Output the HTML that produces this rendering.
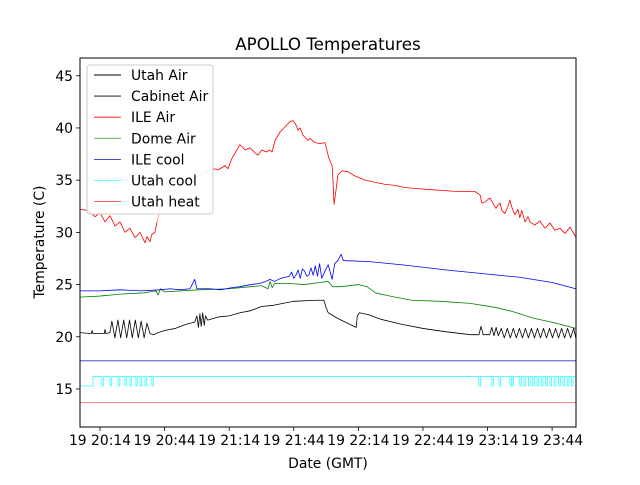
<!DOCTYPE html>
<html><head><meta charset="utf-8"><style>
body{margin:0;background:#fff}
svg text{font-family:"DejaVu Sans","Liberation Sans",sans-serif;fill:#000}
</style></head><body>
<svg id="chart" width="640" height="480" viewBox="0 0 640 480" xmlns="http://www.w3.org/2000/svg">
<rect width="640" height="480" fill="#fff"/>
<text x="328" y="50" font-size="16.7" text-anchor="middle">APOLLO Temperatures</text>
<g id="plot"></g>
<g id="axes"></g>
<text x="328" y="468" font-size="13.9" text-anchor="middle">Date (GMT)</text>
<text transform="translate(44,242) rotate(-90)" font-size="13.9" text-anchor="middle">Temperature (C)</text>
<g id="legend"></g>
</svg>
<script>
// minutes after 19 20:14
const xTickMinutes=[0,30,60,90,120,150,180,210];
const xTickLabels=["19 20:14","19 20:44","19 21:14","19 21:44","19 22:14","19 22:44","19 23:14","19 23:44"];
const yTicks=[15,20,25,30,35,40,45];

const ileAirT=[-9.3,-5.6,-2.3,0,2.3,4.6,7.0,9.3,11.6,13.9,16.3,18.6,20.9,21.8,23.2,24.1,25.5,26.5,27.9,29.3,30.7,32.5,34.8,37.2,41.8,46.4,51.1,52.5,54.8,56.7,58.0,59.4,61.3,63.6,65.0,67.3,69.7,72.0,73.4,75.2,77.1,78.9,79.9,81.3,83.6,85.9,88.2,89.6,91.0,92.0,92.9,94.3,96.6,97.5,99.8,102.2,104.5,106.3,107.8,108.2,108.7,109.6,110.5,112.4,115.2,118.4,123.1,127.7,132.4,137.0,141.6,146.3,153.3,160.2,167.2,174.2,176.5,177.4,178.8,181.1,182.5,183.9,184.8,185.8,186.7,188.1,189.5,190.4,191.3,192.7,194.1,195.0,195.9,197.4,198.8,199.7,202.0,204.3,206.7,209.0,211.3,213.6,216.0,218.3,220.6,221.1];
const ileAirV=[32.2,32.1,31.5,31.9,31.0,31.6,30.6,31.0,30.0,30.4,29.5,30.0,29.0,29.6,29.1,29.8,30.0,31.0,32.3,33.4,34.2,33.9,34.0,34.5,35.0,35.5,36.0,36.1,36.0,36.2,36.4,36.1,37.1,37.9,38.4,37.9,38.1,37.6,37.4,37.9,37.7,37.9,37.7,38.8,39.6,40.1,40.6,40.7,40.3,39.8,40.0,39.3,38.8,39.0,38.6,38.5,38.6,37.1,36.4,35.0,32.7,34.0,35.5,35.9,35.8,35.4,35.0,34.8,34.6,34.5,34.3,34.2,34.1,34.0,33.9,33.9,33.6,32.8,32.9,33.3,32.8,32.3,32.6,32.8,32.1,31.8,32.5,33.1,32.4,31.7,32.2,31.4,32.1,31.0,31.5,31.0,30.7,31.1,30.4,30.9,30.2,30.4,29.9,30.5,29.7,29.5];
const ileAirFaint=[26.5,52.5];

const cabinetT=[-9.3,0,9.3,18.6,27.9,32.5,37.2,41.8,44,45,51,56,61,65,70,74,77,79,81,84,86,88,89,90,91,92,93,94,95,96,97,98,99,100,101,102,103,104.5,106,107.8,109,110.5,112,113,125,140,161,180,195,210,221];
const cabinetV=[24.4,24.4,24.5,24.4,24.5,24.6,24.5,24.6,25.5,24.6,24.6,24.5,24.7,24.8,25.0,25.1,25.3,25.5,25.3,25.6,25.7,25.8,26.2,25.6,25.9,26.4,25.6,26.5,26.3,25.8,25.9,26.6,25.9,26.8,25.8,27.0,25.6,26.3,26.9,25.5,27.0,27.3,27.9,27.3,27.2,26.9,26.4,26.0,25.7,25.2,24.6];

const domeT=[-9.3,0,10,20,26,27,28,30,46,60,70,75,78,79,80,81,88,95,102,106,108,112,120,124,128,137,145,158,172,184,192,201,212,221];
const domeV=[23.8,23.9,24.1,24.2,24.4,24.0,24.6,24.3,24.5,24.6,24.8,24.9,24.6,25.3,24.7,25.1,25.1,25.0,25.2,25.3,24.8,24.8,25.0,24.8,24.2,23.8,23.5,23.4,23.2,22.8,22.4,21.8,21.3,20.8];

const utahAirT=[-9.3,-4,-3.7,-3.2,0,2,2.3,2.8,4.6,5.5,6.9,8.3,9.6,11,12.4,13.7,15,16.4,17.8,19.1,20.5,21.8,23.2,25,27,30,35,40,44,45,45.7,46.4,47,47.7,48.4,49,50,55,60,65,70,75,80,85,90,100,104,105,106,110,115,118,119,119.5,120.5,125,130,140,150,160,172,176,177,178,181,182,183,184,185,186.4,187.8,189.2,190.6,192,193.4,194.8,196.2,197.6,199,200.4,201.8,203.2,204.6,206,207.4,208.8,210.2,211.6,213,214.4,215.8,217.2,218.6,220,221];
const utahAirV=[20.4,20.3,20.6,20.3,20.3,20.3,20.7,20.3,20.4,21.5,19.9,21.6,19.9,21.6,19.9,21.6,19.9,21.6,19.9,21.5,19.9,21.3,20.3,20.2,20.4,20.6,20.8,21.2,21.4,22.0,20.9,22.2,21.0,22.3,21.1,22.0,21.6,21.9,22.0,22.3,22.5,22.9,23.0,23.2,23.4,23.5,23.5,22.8,22.3,21.8,21.3,21.0,20.9,22.0,22.3,22.1,21.7,21.2,20.8,20.5,20.2,20.2,21.0,20.2,20.2,20.9,20.1,20.9,20.1,20.8,19.9,20.8,19.9,20.8,19.9,20.8,19.9,20.8,19.9,20.8,19.9,20.8,19.9,20.8,19.9,20.8,19.9,20.8,19.9,20.8,19.9,20.8,19.9,20.8,19.9,20.8,20.3];

const coolOnLevel=16.2, coolOffLevel=15.3, coolStartMinute=-3.3, coolDipWidth=0.8;
const coolDips=[0.9,4.6,8.4,11.6,13.9,16.7,18.6,20.9,24.1,176,182,185.3,190.4,191.3,195,197,199,201,203,205,207,209,211,213,215,217,219];
const ileCoolLevel=17.7;
const utahHeatLevel=13.7;

const L=80,R=576,T=58,B=427,X0=-9.3,X1=221.1,Y0=11.36,Y1=46.7;
const sx=m=>L+(m-X0)/(X1-X0)*(R-L);
const sy=v=>B-(v-Y0)/(Y1-Y0)*(B-T);
const NS="http://www.w3.org/2000/svg";
const plot=document.getElementById('plot'),axes=document.getElementById('axes'),leg=document.getElementById('legend');
function mk(tag,attrs,parent){const e=document.createElementNS(NS,tag);for(const k in attrs)e.setAttribute(k,attrs[k]);parent.appendChild(e);return e;}
function line(ts,vs,color,name,opacity){
  const d=ts.map((t,i)=>(i?'L':'M')+sx(t).toFixed(2)+','+sy(vs[i]).toFixed(2)).join('');
  const p=mk('path',{d:d,fill:'none',stroke:color,'stroke-width':0.8,'stroke-opacity':opacity||1,'stroke-linejoin':'round'},plot);
  
  
}
const defs=mk('defs',{},plot);const cp=mk('clipPath',{id:'clip'},defs);mk('rect',{x:L,y:T,width:R-L,height:B-T},cp);
plot.setAttribute('clip-path','url(#clip)');

line([X0,X1],[utahHeatLevel,utahHeatLevel],'#ff0000','utah-heat-line',0.5);
const ct=[X0,coolStartMinute,coolStartMinute],cv=[coolOffLevel,coolOffLevel,coolOnLevel];
coolDips.forEach(m=>{ct.push(m,m,m+coolDipWidth,m+coolDipWidth);cv.push(coolOnLevel,coolOffLevel,coolOffLevel,coolOnLevel);});
ct.push(X1);cv.push(coolOnLevel);
line(ct,cv,'#00ffff','utah-cool-line',0.8);
line([X0,X1],[ileCoolLevel,ileCoolLevel],'#0000aa','ile-cool-line',0.8);
line(utahAirT,utahAirV,'#000000','utah-air-line');
line(domeT,domeV,'#008000','dome-air-line');
line(cabinetT,cabinetV,'#0000ff','cabinet-air-line');
const a=[],b=[],c=[];
ileAirT.forEach((t,i)=>{if(t<=ileAirFaint[0])a.push(i);if(t>=ileAirFaint[0]&&t<=ileAirFaint[1])b.push(i);if(t>=ileAirFaint[1])c.push(i);});
line(a.map(i=>ileAirT[i]),a.map(i=>ileAirV[i]),'#ff0000','ile-air-line');
line(b.map(i=>ileAirT[i]),b.map(i=>ileAirV[i]),'#ff0000','ile-air-line-faint',0.45);
line(c.map(i=>ileAirT[i]),c.map(i=>ileAirV[i]),'#ff0000','ile-air-line-late');

const fr=mk('rect',{x:L,y:T,width:R-L,height:B-T,fill:'none',stroke:'#000','stroke-width':1},axes);

xTickMinutes.forEach((m,i)=>{
  const x=sx(m);
  const tk=mk('line',{x1:x,x2:x,y1:B,y2:B+4,stroke:'#000','stroke-width':0.8},axes);
  
  const tx=mk('text',{x:x,y:B+18,'font-size':13.9,'text-anchor':'middle'},axes);tx.textContent=xTickLabels[i];
  
});
yTicks.forEach(v=>{
  const y=sy(v);
  const tk=mk('line',{x1:L-4,x2:L,y1:y,y2:y,stroke:'#000','stroke-width':0.8},axes);
  
  const tx=mk('text',{x:L-7,y:y+5,'font-size':13.9,'text-anchor':'end'},axes);tx.textContent=v;
  
});
const lb=mk('rect',{x:87,y:65,width:126,height:149,rx:3,fill:'#fff','fill-opacity':0.8,stroke:'#ccc','stroke-width':1},leg);

const legNames=["Utah Air","Cabinet Air","ILE Air","Dome Air","ILE cool","Utah cool","Utah heat"];
const legColors=["#000","#000","#f00","#008000","#0000aa","#00ffff","#ff0000"];
const legOp=[1,1,1,0.7,0.8,0.6,0.7];
legNames.forEach((n,i)=>{
  const y=75+i*21.1;
  const g=mk('g',{},leg);
  
  mk('line',{x1:94,x2:121,y1:y,y2:y,stroke:legColors[i],'stroke-width':0.9,'stroke-opacity':legOp[i]},g);
  const t=mk('text',{x:131,y:y+5,'font-size':13.9},g);t.textContent=n;
});
</script>
</body></html>
